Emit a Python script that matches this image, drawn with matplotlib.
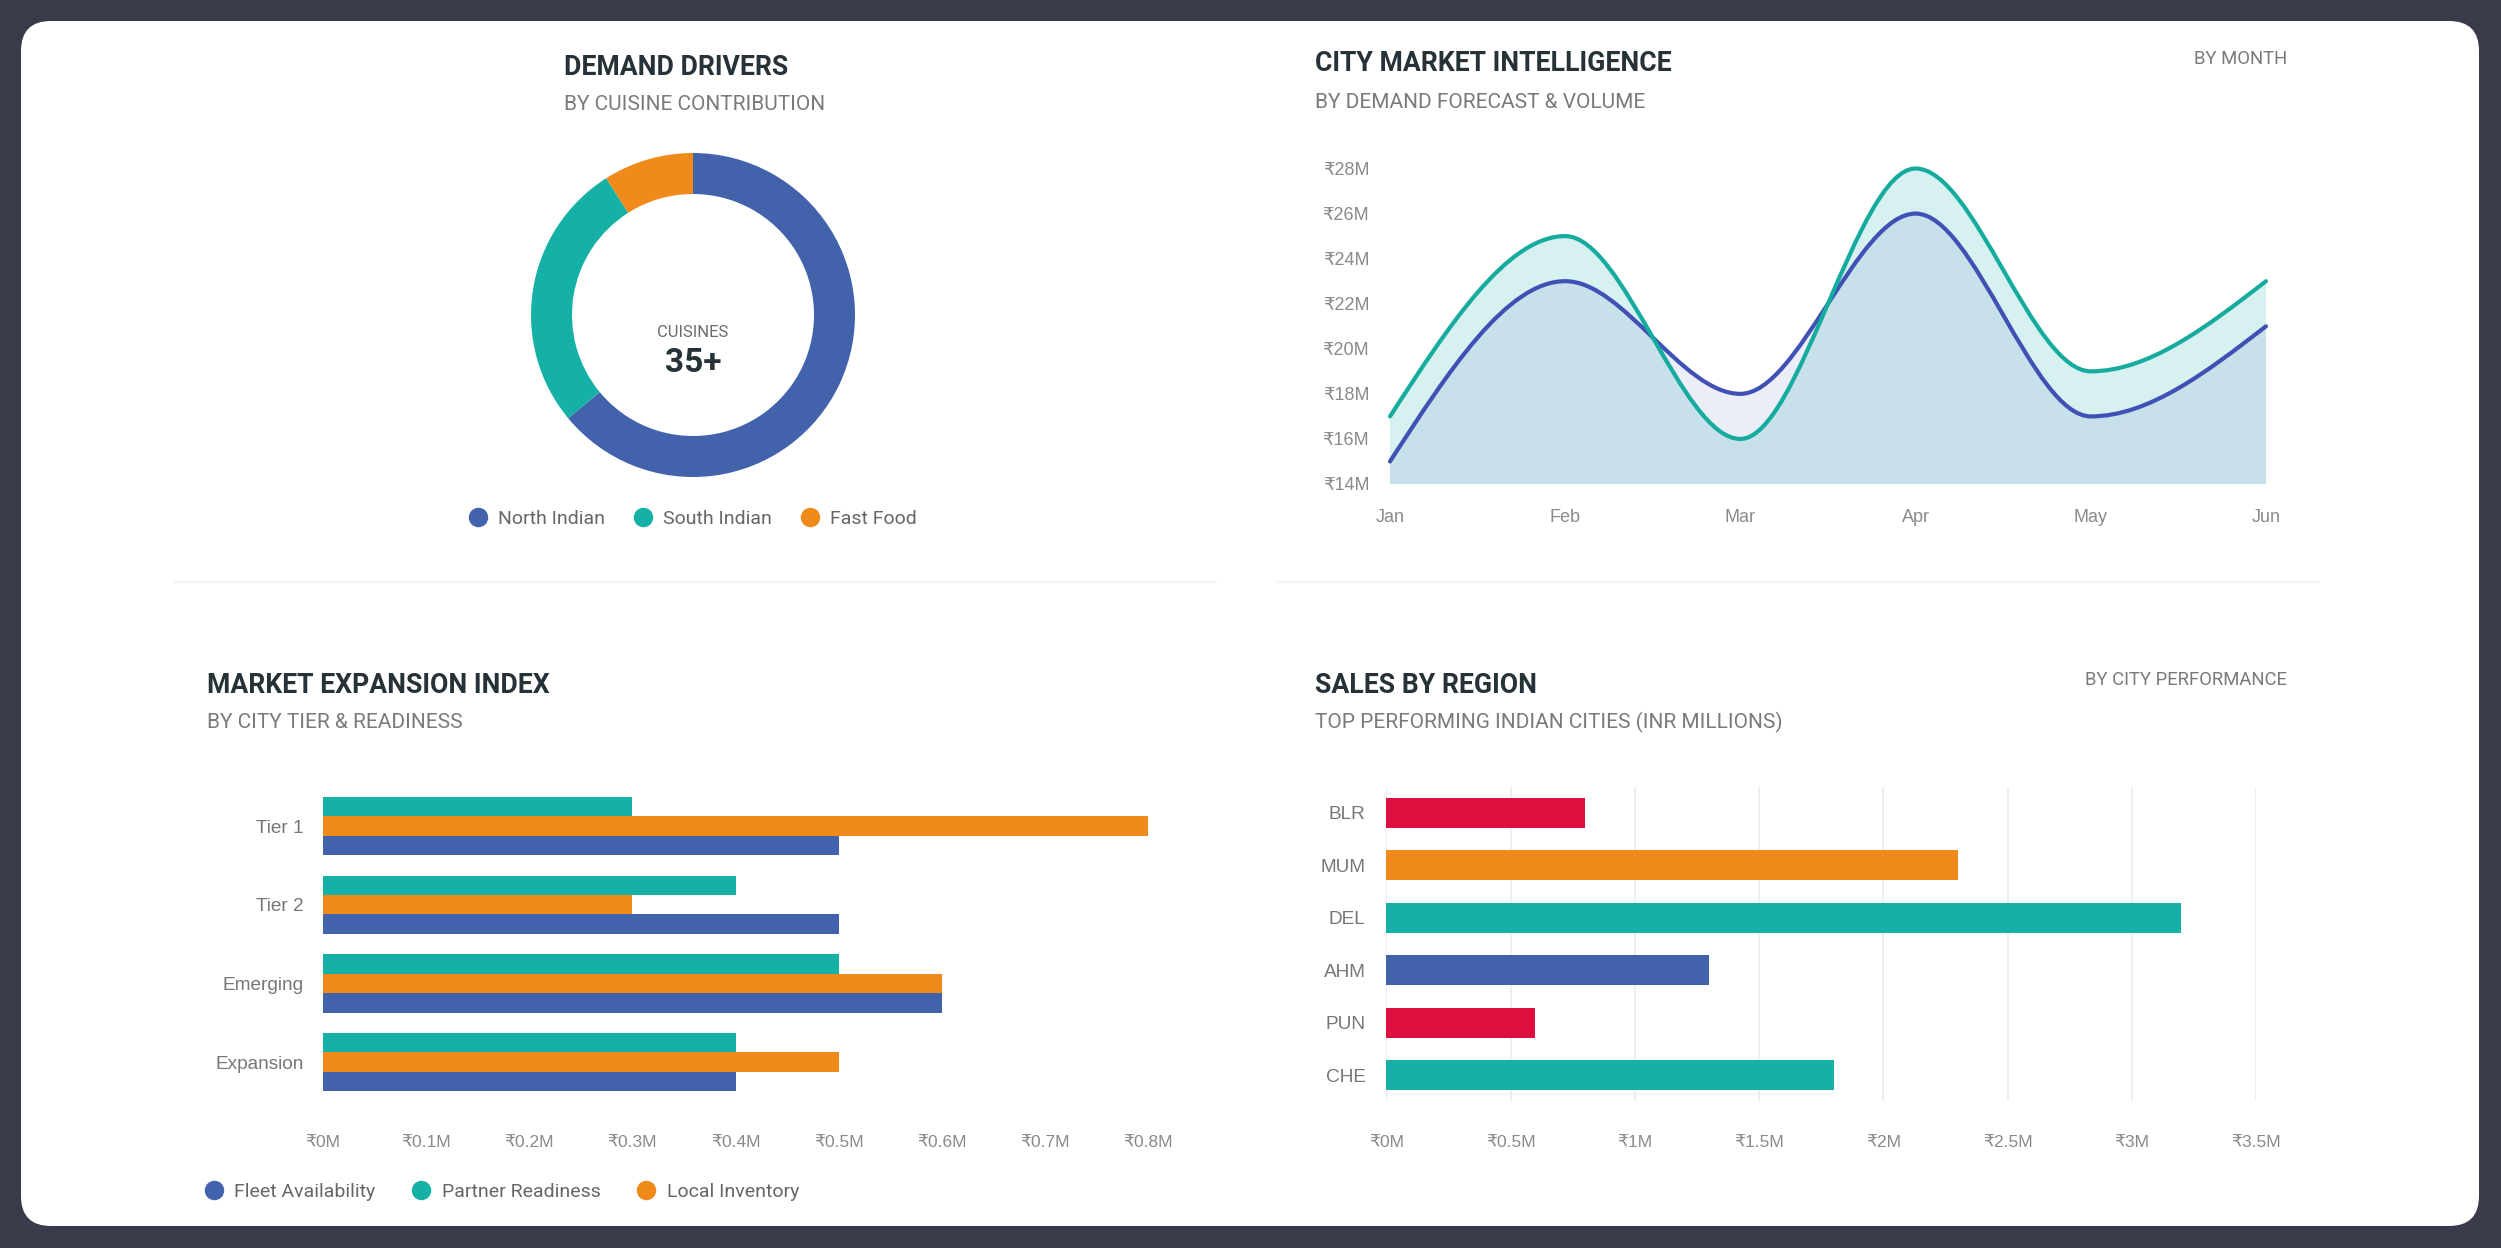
import numpy as np
import matplotlib
matplotlib.use("Agg")
import matplotlib.pyplot as plt
from matplotlib.patches import FancyBboxPatch, PathPatch
from matplotlib.path import Path
from matplotlib.lines import Line2D

# ── data ──
cuisine_labels = ["North Indian", "South Indian", "Fast Food"]
cuisine_share = [64, 27, 9]
cuisine_total = "35+"

months = ["Jan", "Feb", "Mar", "Apr", "May", "Jun"]
demand_forecast = [17, 25, 16, 28, 19, 23]
order_volume = [15, 23, 18, 26, 17, 21]
revenue_ticks = [14, 16, 18, 20, 22, 24, 26, 28]

tiers = ["Tier 1", "Tier 2", "Emerging", "Expansion"]
fleet_availability = [0.5, 0.5, 0.6, 0.4]
partner_readiness = [0.3, 0.4, 0.5, 0.4]
local_inventory = [0.8, 0.3, 0.6, 0.5]
tier_ticks = [0, 0.1, 0.2, 0.3, 0.4, 0.5, 0.6, 0.7, 0.8]

cities = ["BLR", "MUM", "DEL", "AHM", "PUN", "CHE"]
city_sales = [0.8, 2.3, 3.2, 1.3, 0.6, 1.8]
sales_ticks = [0, 0.5, 1, 1.5, 2, 2.5, 3, 3.5]

# ── styles ──
BLUE = "#4262ac"
TEAL = "#15b1a6"
ORANGE = "#f08a1b"
CRIMSON = "#dc0f3f"
LINE_BLUE = "#3f51b5"
LINE_TEAL = "#16ab9f"
TITLE_C = "#263238"
SUB_C = "#7a7a7a"
TICK_C = "#8a8a8a"
city_colors = [CRIMSON, ORANGE, TEAL, BLUE, CRIMSON, TEAL]

HEAD = ["Roboto", "DejaVu Sans"]
TICKF = ["Liberation Sans", "DejaVu Sans"]

W, H = 2501, 1248
fig = plt.figure(figsize=(W / 100, H / 100), dpi=100)
fig.patch.set_facecolor("#393b4b")

# белая карточка (под всеми осями)
card = FancyBboxPatch((0.21, 0.22), 24.58, 12.05,
                      boxstyle="round,pad=0,rounding_size=0.3",
                      transform=fig.dpi_scale_trans,
                      facecolor="white", edgecolor="none", zorder=-5)
fig.patches.append(card)


def P(x, y):
    return x / W, 1 - y / H


def px_axes(x0, y0, x1, y1):
    return fig.add_axes([x0 / W, 1 - y1 / H, (x1 - x0) / W, (y1 - y0) / H])


def ftext(x, y, s, **kw):
    fig.text(*P(x, y), s, **kw)


def header(x, y_title, y_sub, title, sub):
    ftext(x, y_title, title, fontsize=19.2, fontweight="bold", color=TITLE_C,
          family=HEAD, va="baseline")
    ftext(x, y_sub, sub, fontsize=15, color=SUB_C, family=HEAD, va="baseline")


def style_ticks(ax, size, pad_x, pad_y, cat_size=None):
    ax.tick_params(length=0, labelsize=size, labelcolor=TICK_C)
    ax.tick_params(axis="x", pad=pad_x)
    ax.tick_params(axis="y", pad=pad_y)
    for lab in ax.get_xticklabels() + ax.get_yticklabels():
        lab.set_family(TICKF)
    if cat_size:
        for lab in ax.get_yticklabels():
            lab.set_fontsize(cat_size)
            lab.set_color("#777777")
    for s in ax.spines.values():
        s.set_visible(False)
    ax.patch.set_alpha(0)


# разделители
for xa, xb in [(175, 1216), (1278, 2319)]:
    fig.add_artist(Line2D([xa / W, xb / W], [1 - 582 / H] * 2,
                          color="#f2f2f5", lw=1.5, transform=fig.transFigure,
                          zorder=-4))

# ── 1. Demand drivers (donut) ──
header(564, 74.6, 109.8, "DEMAND DRIVERS", "BY CUISINE CONTRIBUTION")
R = 162
ax = px_axes(693 - 180, 315 - 180, 693 + 180, 315 + 180)
ax.pie(cuisine_share, colors=[BLUE, TEAL, ORANGE], startangle=90,
       counterclock=False, radius=1,
       wedgeprops=dict(width=1 - 121 / R, edgecolor="none"))
ax.set_xlim(-180 / R, 180 / R)
ax.set_ylim(-180 / R, 180 / R)
ax.set_aspect("equal")
ax.axis("off")
ax.text(0, -21.8 / R, "CUISINES", ha="center", va="baseline", fontsize=12,
        color="#6b6b6b", family=HEAD)
ax.text(0, -57 / R, cuisine_total, ha="center", va="baseline", fontsize=24,
        fontweight="bold", color=TITLE_C, family=HEAD)
handles = [Line2D([], [], marker="o", ls="none", ms=13, color=c)
           for c in [BLUE, TEAL, ORANGE]]
fig.legend(handles, cuisine_labels, loc="center", bbox_to_anchor=P(693, 519),
           ncol=3, frameon=False, handlelength=0.9, handletextpad=0.6,
           columnspacing=1.5, borderpad=0, borderaxespad=0,
           prop=dict(family=HEAD, size=14), labelcolor="#666666")


# ── 2. City market intelligence (smooth area) ──
def smooth_path(xs, ys):
    """Кривая monotoneX как кубические Безье."""
    xs = np.asarray(xs, float)
    ys = np.asarray(ys, float)
    n = len(xs)
    t = np.zeros(n)
    for i in range(1, n - 1):
        h0, h1 = xs[i] - xs[i - 1], xs[i + 1] - xs[i]
        s0, s1 = (ys[i] - ys[i - 1]) / h0, (ys[i + 1] - ys[i]) / h1
        p = (s0 * h1 + s1 * h0) / (h0 + h1)
        t[i] = (np.sign(s0) + np.sign(s1)) * min(abs(s0), abs(s1), 0.5 * abs(p))
    t[0] = (3 * (ys[1] - ys[0]) / (xs[1] - xs[0]) - t[1]) / 2
    t[-1] = (3 * (ys[-1] - ys[-2]) / (xs[-1] - xs[-2]) - t[-2]) / 2
    verts = [(xs[0], ys[0])]
    codes = [Path.MOVETO]
    for i in range(n - 1):
        d = (xs[i + 1] - xs[i]) / 3
        verts += [(xs[i] + d, ys[i] + d * t[i]),
                  (xs[i + 1] - d, ys[i + 1] - d * t[i + 1]),
                  (xs[i + 1], ys[i + 1])]
        codes += [Path.CURVE4] * 3
    return verts, codes


header(1315, 70.8, 108, "CITY MARKET INTELLIGENCE", "BY DEMAND FORECAST & VOLUME")
ftext(2287, 64, "BY MONTH", fontsize=13.3, color=SUB_C, family=HEAD,
      ha="right", va="baseline")
ax = px_axes(1390, 168.5, 2266, 484)
x = np.arange(len(months))
base = revenue_ticks[0]
for series, fill_c, alpha in [(demand_forecast, TEAL, 0.17),
                              (order_volume, LINE_BLUE, 0.10)]:
    v, c = smooth_path(x, series)
    area = Path(v + [(x[-1], base), (x[0], base), v[0]],
                c + [Path.LINETO, Path.LINETO, Path.CLOSEPOLY])
    ax.add_patch(PathPatch(area, facecolor=fill_c, alpha=alpha,
                           edgecolor="none", zorder=1))
for series, line_c in [(order_volume, LINE_BLUE), (demand_forecast, LINE_TEAL)]:
    v, c = smooth_path(x, series)
    ax.add_patch(PathPatch(Path(v, c), facecolor="none", edgecolor=line_c,
                           lw=3, capstyle="round", clip_on=False, zorder=3))
ax.set_xlim(x[0], x[-1])
ax.set_ylim(revenue_ticks[0], revenue_ticks[-1])
ax.set_xticks(x, months)
ax.set_yticks(revenue_ticks, [f"₹{v}M" for v in revenue_ticks])
style_ticks(ax, 13, 18, 15)

# ── 3. Market expansion index (grouped barh) ──
header(207, 693, 728, "MARKET EXPANSION INDEX", "BY CITY TIER & READINESS")
ax = px_axes(323, 786.7, 1148, 1101.4)
y = np.arange(len(tiers))
h = 0.742 / 3
ax.barh(y - h, partner_readiness, height=h, color=TEAL, label="Partner Readiness")
ax.barh(y, local_inventory, height=h, color=ORANGE, label="Local Inventory")
ax.barh(y + h, fleet_availability, height=h, color=BLUE, label="Fleet Availability")
ax.set_ylim(len(tiers) - 0.5, -0.5)
ax.set_xlim(tier_ticks[0], tier_ticks[-1])
ax.set_yticks(y, tiers)
ax.set_xticks(tier_ticks, [f"₹{v:g}M" for v in tier_ticks])
style_ticks(ax, 12.5, 24, 14, cat_size=13.7)
handles = [Line2D([], [], marker="o", ls="none", ms=13, color=c)
           for c in [BLUE, TEAL, ORANGE]]
fig.legend(handles, ["Fleet Availability", "Partner Readiness", "Local Inventory"],
           loc="center left", bbox_to_anchor=P(205, 1192), ncol=3, frameon=False,
           handlelength=0.9, handletextpad=0.6, columnspacing=1.9,
           borderpad=0, borderaxespad=0,
           prop=dict(family=HEAD, size=14), labelcolor="#666666")

# ── 4. Sales by region ──
header(1315, 693, 728, "SALES BY REGION", "TOP PERFORMING INDIAN CITIES (INR MILLIONS)")
ftext(2287, 685, "BY CITY PERFORMANCE", fontsize=13.3, color=SUB_C, family=HEAD,
      ha="right", va="baseline")
ax = px_axes(1386.4, 786.7, 2256, 1101.4)
yc = np.arange(len(cities))
ax.barh(yc, city_sales, height=0.57, color=city_colors, zorder=2)
ax.set_ylim(len(cities) - 0.5, -0.5)
ax.set_xlim(sales_ticks[0], sales_ticks[-1])
ax.set_xticks(sales_ticks, [f"₹{v:g}M" for v in sales_ticks])
ax.set_yticks(yc, cities)
ax.grid(axis="x", color="#ececec", lw=1.2, zorder=0)
ax.set_axisbelow(True)
style_ticks(ax, 12.5, 24, 15, cat_size=13.7)

fig.savefig("out.png", dpi=100, facecolor=fig.get_facecolor())
